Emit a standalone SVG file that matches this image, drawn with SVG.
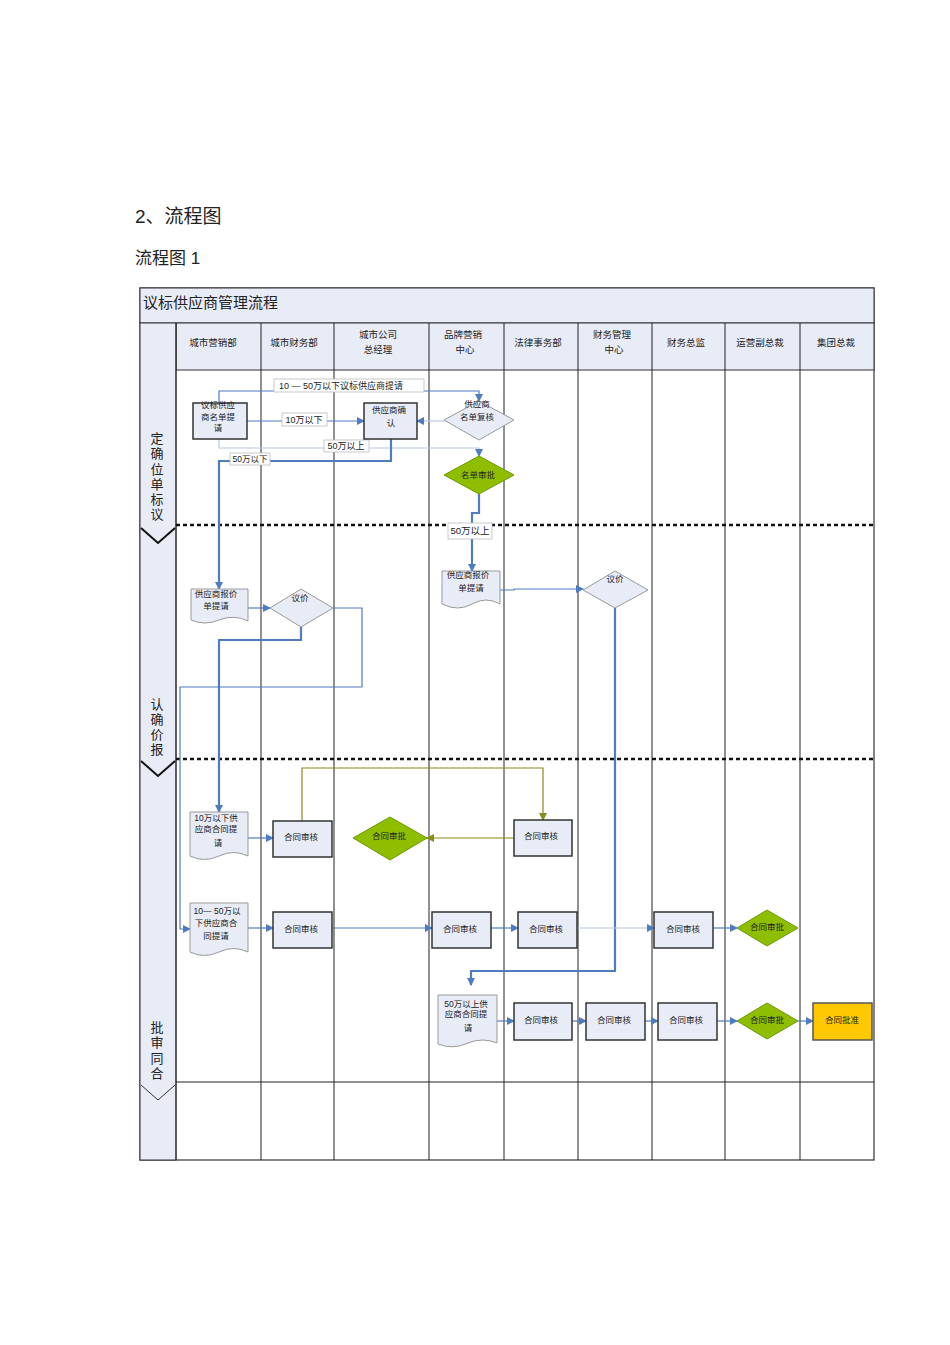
<svg xmlns="http://www.w3.org/2000/svg" width="950" height="1345" viewBox="0 0 950 1345">
<defs>
<marker id="a" markerWidth="8" markerHeight="8" refX="7" refY="4" orient="auto" markerUnits="userSpaceOnUse"><path d="M0,0 L8,4 L0,8 z" fill="#4f7bc0"/></marker>
<marker id="o" markerWidth="8" markerHeight="8" refX="7" refY="4" orient="auto" markerUnits="userSpaceOnUse"><path d="M0,0 L8,4 L0,8 z" fill="#8a8a1a"/></marker>
<style>
text{font-family:"Liberation Sans","Noto Sans CJK SC",sans-serif;fill:#222}
.h{font-size:10px;text-anchor:middle}
.n{font-size:8.5px;text-anchor:middle}
.box{fill:#e8ecf7;stroke:#333;stroke-width:1.5}
.doc{fill:#e8ecf7;stroke:#999;stroke-width:1}
.dia{fill:#e8ecf7;stroke:#999;stroke-width:1}
.g{fill:#8fbe00;stroke:#6a9a00;stroke-width:1}
.c{fill:none;stroke:#4f7bc0;stroke-width:1.2}
.t{fill:none;stroke:#4f7bc0;stroke-width:2.2}
.l{fill:none;stroke:#b8c8e4;stroke-width:1.2}
.ol{fill:none;stroke:#8a8a1a;stroke-width:1.2}
.lab{fill:#fff;stroke:#bbb;stroke-width:0.8}
.ln{stroke:#222;stroke-width:1}
.dash{stroke:#111;stroke-width:2.5;stroke-dasharray:4,3}
</style>
</defs>
<text x="135" y="223" style="font-size:19px">2、流程图</text>
<text x="135" y="264" style="font-size:17px">流程图 1</text>
<g id="frame">
<rect x="140" y="288" width="734" height="872" fill="#fff" stroke="#333" stroke-width="1.2"/>
<rect x="140" y="288" width="734" height="35" fill="#e8ecf7" stroke="#333"/>
<text x="143" y="308" style="font-size:15px">议标供应商管理流程</text>
<rect x="176" y="323" width="698" height="47" fill="#e8ecf7" stroke="#333"/>
<rect x="140" y="323" width="36" height="837" fill="#e8ecf7" stroke="#333"/>
<g class="ln">
<line x1="176" y1="323" x2="176" y2="1160"/><line x1="261" y1="323" x2="261" y2="1160"/><line x1="334" y1="323" x2="334" y2="1160"/><line x1="429" y1="323" x2="429" y2="1160"/><line x1="504" y1="323" x2="504" y2="1160"/><line x1="578" y1="323" x2="578" y2="1160"/><line x1="652" y1="323" x2="652" y2="1160"/><line x1="725" y1="323" x2="725" y2="1160"/><line x1="800" y1="323" x2="800" y2="1160"/>
<line x1="176" y1="1082" x2="874" y2="1082"/>
</g>
<line class="dash" x1="176" y1="525" x2="874" y2="525"/>
<line class="dash" x1="176" y1="759" x2="874" y2="759"/>
<path d="M141,528 L158,543 L175,528" fill="none" stroke="#111" stroke-width="2"/>
<path d="M141,761 L158,776 L175,761" fill="none" stroke="#111" stroke-width="2"/>
<path d="M141,1085 L158,1100 L175,1085" fill="none" stroke="#333" stroke-width="1"/>
<g style="font-size:13px;text-anchor:middle">
<text x="157" y="443">定</text><text x="157" y="458">确</text><text x="157" y="474">位</text><text x="157" y="489">单</text><text x="157" y="504">标</text><text x="157" y="519">议</text>
<text x="157" y="709">认</text><text x="157" y="724">确</text><text x="157" y="739">价</text><text x="157" y="754">报</text>
<text x="157" y="1032">批</text><text x="157" y="1047">审</text><text x="157" y="1063">同</text><text x="157" y="1078">合</text>
</g>
<g class="h" style="font-size:9.5px">
<text x="213" y="346">城市营销部</text><text x="294" y="346">城市财务部</text>
<text x="378" y="338">城市公司</text><text x="378" y="353">总经理</text>
<text x="463" y="338">品牌营销</text><text x="465" y="353">中心</text>
<text x="538" y="346">法律事务部</text>
<text x="612" y="338">财务管理</text><text x="614" y="353">中心</text>
<text x="686" y="346">财务总监</text><text x="760" y="346">运营副总裁</text><text x="836" y="346">集团总裁</text>
</g>
</g>
<g id="connectors">
<path class="c" d="M219,403 V391 H479 V401" marker-end="url(#a)"/>
<path class="c" d="M247,421 H364" marker-end="url(#a)"/>
<path class="l" d="M444,421 H417" marker-end="url(#a)"/>
<path class="l" d="M219,439 V448 H479 V456" marker-end="url(#a)"/>
<path class="t" d="M391,439 V461 H219 V589" marker-end="url(#a)"/>
<path class="t" d="M479,494 V513 H472 V571" marker-end="url(#a)"/>
<path class="c" d="M500,590 H514 V589 H583" marker-end="url(#a)"/>
<path class="c" d="M248,608 H270" marker-end="url(#a)"/>
<path class="t" d="M301,627 V640 H219 V812" marker-end="url(#a)"/>
<path class="c" d="M333,608 H362 V687 H180 V929 H190" marker-end="url(#a)"/>
<path class="t" d="M615,608 V971 H471 V985" marker-end="url(#a)"/>
<path class="ol" d="M302,821 V768 H543 V820" marker-end="url(#o)"/>
<path class="ol" d="M514,838 H427" marker-end="url(#o)"/>
<path class="c" d="M248,838 H273" marker-end="url(#a)"/>
<path class="c" d="M248,928 H273" marker-end="url(#a)"/>
<path class="c" d="M332,928 H432" marker-end="url(#a)"/>
<path class="c" d="M491,928 H518" marker-end="url(#a)"/>
<path class="l" d="M577,928 H654" marker-end="url(#a)"/>
<path class="c" d="M713,928 H737" marker-end="url(#a)"/>
<path class="c" d="M497,1021 H514" marker-end="url(#a)"/>
<path class="c" d="M572,1021 H586" marker-end="url(#a)"/>
<path class="c" d="M645,1021 H658" marker-end="url(#a)"/>
<path class="c" d="M717,1021 H737" marker-end="url(#a)"/>
<path class="c" d="M798,1021 H813" marker-end="url(#a)"/>
<rect class="lab" x="274" y="379" width="150" height="13"/><text x="341" y="389" style="font-size:9px;text-anchor:middle">10 — 50万以下议标供应商提请</text>
<rect class="lab" x="282" y="413" width="45" height="13"/><text x="304" y="423" style="font-size:9px;text-anchor:middle">10万以下</text>
<rect class="lab" x="324" y="440" width="45" height="12"/><text x="346" y="449" style="font-size:9px;text-anchor:middle">50万以上</text>
<rect class="lab" x="230" y="453" width="40" height="12"/><text x="250" y="462" style="font-size:8.5px;text-anchor:middle">50万以下</text>
<rect class="lab" x="448" y="523" width="44" height="16"/><text x="470" y="534" style="font-size:9.5px;text-anchor:middle">50万以上</text>
</g>
<g id="n1"><rect class="box" x="193" y="403" width="54" height="36"/><text class="n" x="218" y="408">议标供应</text><text class="n" x="218" y="420">商名单提</text><text class="n" x="218" y="431">请</text></g>
<g id="n2"><rect class="box" x="364" y="403" width="53" height="36"/><text class="n" x="389" y="413">供应商确</text><text class="n" x="391" y="426">认</text></g>
<g id="n3"><path class="dia" d="M444,420 L479,401 L514,420 L479,440 z"/><text class="n" x="477" y="407">供应商</text><text class="n" x="477" y="420">名单复核</text></g>
<g id="n4"><path class="g" d="M444,475 L479,456 L514,475 L479,494 z"/><text class="n" x="478" y="478">名单审批</text></g>
<g id="n5"><path class="doc" d="M442,571 H500 V604 Q486,596 472,604 Q458,612 442,604 z"/><text class="n" x="468" y="578">供应商报价</text><text class="n" x="471" y="591">单提请</text></g>
<g id="n6"><path class="dia" d="M583,590 L615,571 L648,590 L615,608 z"/><text class="n" x="615" y="582">议价</text></g>
<g id="n7"><path class="doc" d="M191,589 H248 V621 Q234,614 219,620 Q205,626 191,620 z"/><text class="n" x="216" y="597">供应商报价</text><text class="n" x="216" y="609">单提请</text></g>
<g id="n8"><path class="dia" d="M270,608 L301,589 L333,608 L301,627 z"/><text class="n" x="300" y="601">议价</text></g>
<g id="n9"><path class="doc" d="M190,812 H248 V856 Q234,849 219,856 Q204,863 190,856 z"/><text class="n" x="216" y="821">10万以下供</text><text class="n" x="216" y="832">应商合同提</text><text class="n" x="218" y="846">请</text></g>
<g id="n10"><rect class="box" x="273" y="821" width="59" height="36"/><text class="n" x="301" y="840">合同审核</text></g>
<g id="n11"><path class="g" d="M353,838 L390,817 L427,838 L390,860 z"/><text class="n" x="389" y="839">合同审批</text></g>
<g id="n12"><rect class="box" x="514" y="820" width="58" height="36"/><text class="n" x="541" y="839">合同审核</text></g>
<g id="n13"><path class="doc" d="M190,903 H248 V952 Q234,945 219,952 Q204,959 190,952 z"/><text class="n" x="217" y="914">10— 50万以</text><text class="n" x="216" y="926">下供应商合</text><text class="n" x="216" y="939">同提请</text></g>
<g id="n14"><rect class="box" x="273" y="912" width="59" height="36"/><text class="n" x="301" y="932">合同审核</text></g>
<g id="n15"><rect class="box" x="432" y="912" width="59" height="36"/><text class="n" x="460" y="932">合同审核</text></g>
<g id="n16"><rect class="box" x="518" y="912" width="59" height="36"/><text class="n" x="546" y="932">合同审核</text></g>
<g id="n17"><rect class="box" x="654" y="912" width="59" height="36"/><text class="n" x="683" y="932">合同审核</text></g>
<g id="n18"><path class="g" d="M737,928 L767,910 L798,928 L767,946 z"/><text class="n" x="767" y="930">合同审批</text></g>
<g id="n19"><path class="doc" d="M438,995 H497 V1043 Q483,1037 468,1043 Q453,1050 438,1044 z"/><text class="n" x="466" y="1007">50万以上供</text><text class="n" x="466" y="1017">应商合同提</text><text class="n" x="468" y="1031">请</text></g>
<g id="n20"><rect class="box" x="514" y="1003" width="58" height="37"/><text class="n" x="541" y="1023">合同审核</text></g>
<g id="n21"><rect class="box" x="586" y="1003" width="59" height="37"/><text class="n" x="614" y="1023">合同审核</text></g>
<g id="n22"><rect class="box" x="658" y="1003" width="59" height="37"/><text class="n" x="686" y="1023">合同审核</text></g>
<g id="n23"><path class="g" d="M737,1021 L767,1003 L798,1021 L767,1039 z"/><text class="n" x="767" y="1023">合同审批</text></g>
<g id="n24"><rect x="813" y="1003" width="59" height="37" fill="#ffc800" stroke="#555" stroke-width="1.5"/><text class="n" x="842" y="1023">合同批准</text></g>
</svg>
